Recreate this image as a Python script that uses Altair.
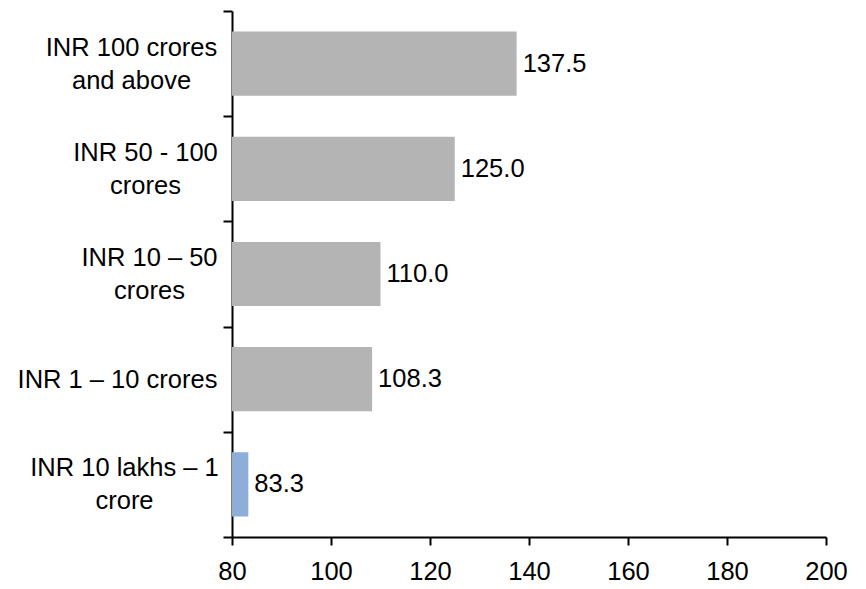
import json

import altair as alt
import pandas as pd

# Turnover bands, listed top to bottom; "\n" marks where a label wraps
categories = [
    "INR 100 crores\nand above",
    "INR 50 - 100\ncrores",
    "INR 10 – 50\ncrores",
    "INR 1 – 10 crores",
    "INR 10 lakhs – 1\ncrore",
]
values = [137.5, 125.0, 110.0, 108.3, 83.3]
highlighted = [False, False, False, False, True]
x_ticks = [80, 100, 120, 140, 160, 180, 200]

GRAY = "#B4B4B4"
BLUE = "#8EADD9"
FONT = "Liberation Sans"
FONT_SIZE = 25.5
LINE_HEIGHT = 33

df = pd.DataFrame({"band": categories, "value": values, "highlight": highlighted})

# Labels are centred line by line; this pushes each block so its right edge
# sits just left of the tick marks.
label_pad = [92, 78, 74, 106, 99]
pad_conditions = [
    {"test": f"datum.value === {json.dumps(c, ensure_ascii=False)}", "value": p}
    for c, p in zip(categories, label_pad)
]

# Two-line labels are lifted by half a line so the block is centred on its bar
wrapped_test = "isValid(datum.value) && indexof(datum.value, '\\n') >= 0"

x_enc = alt.X(
    "value:Q",
    scale=alt.Scale(domain=[80, 200], nice=False, zero=False, clamp=True),
    axis=alt.Axis(
        values=x_ticks,
        title=None,
        grid=False,
        tickSize=8,
        tickWidth=2,
        tickColor="black",
        domainColor="black",
        domainWidth=2,
        labelFont=FONT,
        labelFontSize=FONT_SIZE,
        labelColor="black",
        labelPadding=14,
        labelFlush=False,
        labelOverlap=False,
    ),
)

y_enc = alt.Y(
    "band:N",
    sort=categories,
    scale=alt.Scale(paddingInner=0, paddingOuter=0),
    axis=alt.Axis(
        title=None,
        tickBand="extent",
        labelExpr="isValid(datum.value) ? split(datum.value, '\\n') : ''",
        labelAlign="center",
        labelBaseline="middle",
        labelLineHeight=LINE_HEIGHT,
        labelPadding={"condition": pad_conditions, "value": 90},
        labelOffset={"condition": {"test": wrapped_test, "value": -LINE_HEIGHT / 2}, "value": 0},
        labelLimit=400,
        labelFont=FONT,
        labelFontSize=FONT_SIZE,
        labelColor="black",
        tickSize=9,
        tickWidth=2,
        tickColor="black",
        domainColor="black",
        domainWidth=2,
    ),
)

bars = alt.Chart(df).mark_bar(height={"band": 0.61}).encode(
    x=x_enc,
    y=y_enc,
    color=alt.Color(
        "highlight:N",
        scale=alt.Scale(domain=[False, True], range=[GRAY, BLUE]),
        legend=None,
    ),
)

value_labels = alt.Chart(df).mark_text(
    align="left", baseline="middle", dx=6, font=FONT, fontSize=FONT_SIZE, color="black"
).encode(
    x=alt.X("value:Q"),
    y=alt.Y("band:N", sort=categories),
    text=alt.Text("value:Q", format=".1f"),
)

chart = (
    alt.layer(bars, value_labels)
    .properties(
        width=594,
        height=526,
        autosize=alt.AutoSizeParams(type="none"),
        padding={"left": 232, "top": 11, "right": 40, "bottom": 52},
        background="white",
    )
    .configure_view(stroke=None)
)

chart.save("out.html", embed_options={"renderer": "svg", "actions": False})
